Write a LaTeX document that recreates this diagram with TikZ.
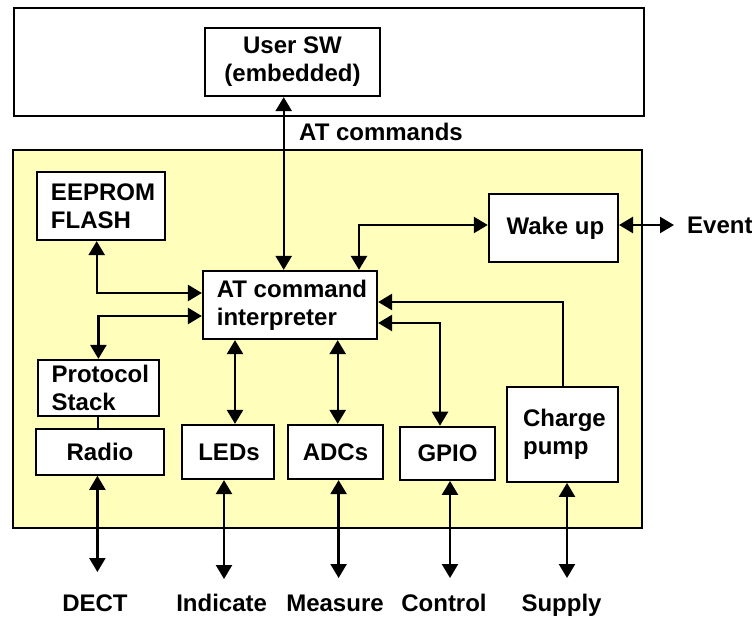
\documentclass[tikz,border=0pt]{standalone}
\usepackage{fontspec}
\setmainfont{Liberation Sans}
\usetikzlibrary{arrows.meta,calc}
\definecolor{chipfill}{RGB}{255,255,187}
\begin{document}
\begin{tikzpicture}[x=1pt,y=-1pt,
  font=\fontsize{24}{28}\selectfont\bfseries,
  box/.style={draw, line width=2.2pt, fill=white, inner sep=0pt, align=left},
  area/.style={draw, line width=2pt, inner sep=0pt},
  link/.style={line width=2.4pt, {Triangle[length=14pt,width=16pt]}-{Triangle[length=14pt,width=16pt]}},
  feed/.style={line width=2.4pt, -{Triangle[length=14pt,width=16pt]}},
  plain/.style={line width=2.4pt},
  tag/.style={inner sep=0pt}]
\useasboundingbox (0,0) rectangle (752,616);

% host side and module area
\node[area, fill=white, minimum width=630pt, minimum height=108pt] (host) at (328.5,61.5) {};
\node[area, fill=chipfill, minimum width=629pt, minimum height=378pt] (chip) at (327.7,339) {};

% blocks
\node[box, align=center, minimum width=175pt, minimum height=68pt] (usersw) at (292.5,62) {User SW\\(embedded)};
\node[box, minimum width=128pt, minimum height=68pt] (eeprom) at (101,206) {\hspace*{4pt}EEPROM\\\hspace*{4pt}FLASH};
\node[box, minimum width=174pt, minimum height=68pt] (atci) at (290,305) {\hspace*{4pt}AT command\\\hspace*{4pt}interpreter};
\node[box, minimum width=129pt, minimum height=68pt] (wake) at (553.4,228) {\hspace*{4pt}Wake up};
\node[box, minimum width=121pt, minimum height=56pt] (proto) at (98.4,388) {\hspace*{4pt}Protocol\\\hspace*{4pt}Stack};
\node[box, minimum width=128pt, minimum height=46pt] (radio) at (100,451.7) {Radio};
\node[box, minimum width=92pt, minimum height=54pt] (leds) at (228,452) {\hspace*{2pt}LEDs};
\node[box, minimum width=95pt, minimum height=54pt] (adcs) at (335.5,452) {ADCs};
\node[box, minimum width=95pt, minimum height=53pt] (gpio) at (447.5,453.3) {GPIO};
\node[box, minimum width=111pt, minimum height=95pt] (pump) at (562.5,434.3) {\hspace*{4pt}Charge\\\hspace*{4pt}pump};

% labels
\node[tag, anchor=west] (atcmd) at (299,132) {AT commands};
\node[tag, anchor=west] (event) at (687,225) {Event};
\node[tag, anchor=base] (dect) at (95,611) {DECT};
\node[tag, anchor=base] (indicate) at (221.6,611) {Indicate};
\node[tag, anchor=base] (measure) at (335,611) {Measure};
\node[tag, anchor=base] (control) at (444,611) {Control};
\node[tag, anchor=base] (supply) at (561.5,611) {Supply};

% free ends of the external lines
\coordinate (dectEnd) at (97.4,572);
\coordinate (ledEnd) at (224,579);
\coordinate (adcEnd) at (338.6,578);
\coordinate (gpioEnd) at (450,578);
\coordinate (pumpEnd) at (567,578);

% connections to the interpreter
\draw[link] ([xshift=-6.3pt]atci.north) -- ([xshift=-6.3pt]atci.north |- usersw.south);
\draw[link] ([xshift=69pt]atci.north) |- ([yshift=3pt]wake.west);
\draw[link, shorten >=13pt] ([yshift=3pt]wake.east) -- (event.west);
\draw[link] ([xshift=-4.3pt]eeprom.south) |- ([yshift=12pt]atci.west);
\draw[link] ([yshift=-11pt]atci.west) -| (proto.north);
\draw[plain] ([xshift=-0.4pt]proto.south) -- ([xshift=-0.4pt]proto.south |- radio.north);
\draw[link] ([xshift=-55pt]atci.south) -- ([xshift=-55pt]atci.south |- leds.north);
\draw[link] ([xshift=47.7pt]atci.south) -- ([xshift=47.7pt]atci.south |- adcs.north);
\draw[link] ([yshift=-18pt]atci.east) -| ([xshift=-7.5pt]gpio.north);
\draw[feed] ([xshift=0.5pt]pump.north) |- ([yshift=3pt]atci.east);

% external interfaces
\draw[link] ([xshift=-2.6pt]radio.south) -- (dectEnd);
\draw[link] ([xshift=-4pt]leds.south) -- (ledEnd);
\draw[link] ([xshift=3.1pt]adcs.south) -- (adcEnd);
\draw[link] ([xshift=2.5pt]gpio.south) -- (gpioEnd);
\draw[link] ([xshift=4.5pt]pump.south) -- (pumpEnd);
\end{tikzpicture}
\end{document}
